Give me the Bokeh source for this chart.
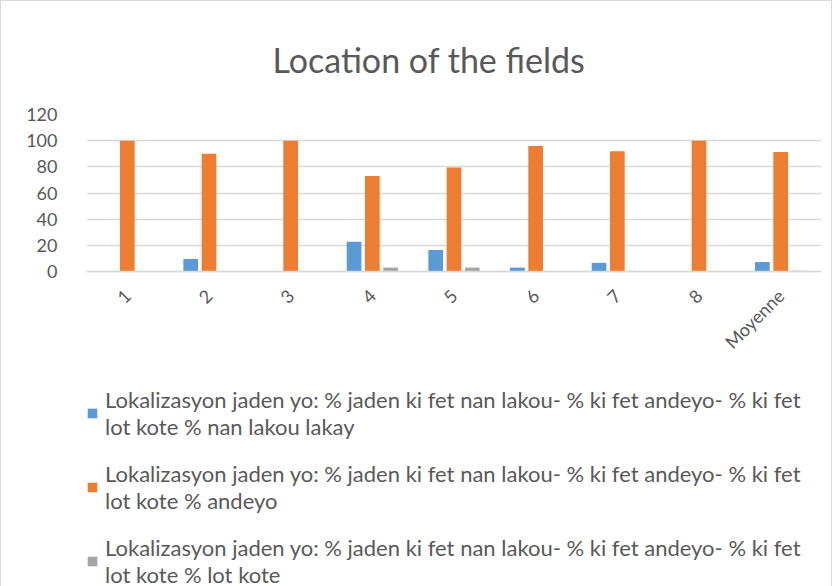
from bokeh.plotting import figure
from bokeh.models import ColumnDataSource, FactorRange, Range1d, Legend, LegendItem, FixedTicker
from bokeh.transform import dodge
from bokeh.embed import file_html
from bokeh.resources import INLINE
import math

categories = ["1", "2", "3", "4", "5", "6", "7", "8", "Moyenne"]
nan_lakou_lakay = [0, 9.5, 0, 22.7, 16.4, 3, 6.6, 0, 7.2]
andeyo = [100, 90, 100, 73, 79.5, 96, 92, 100, 91.3]
lot_kote = [0, 0, 0, 3, 3, 0, 0, 0, 0.6]
y_ticks = [0, 20, 40, 60, 80, 100, 120]

prefix = "Lokalizasyon jaden yo: % jaden ki fet nan lakou- % ki fet andeyo- % ki fet\nlot kote % "
series_labels = [prefix + "nan lakou lakay", prefix + "andeyo", prefix + "lot kote"]
colors = ["#5B9BD5", "#ED7D31", "#A5A5A5"]

src = ColumnDataSource(dict(cat=categories, a=nan_lakou_lakay, b=andeyo, c=lot_kote))

FONT = "Lato"
GREY = "#595959"

# layout: the bar area (0..120) occupies the top 157 px of a taller frame,
# the rest of the frame holds the axis labels and the legend
BAR_H = 157
FRAME_H = 475
Y_MAX = 120
y_low = -Y_MAX * (FRAME_H - BAR_H) / BAR_H

p = figure(frame_width=735, frame_height=FRAME_H, x_range=FactorRange(*categories, range_padding=0),
           y_range=Range1d(y_low, Y_MAX), output_backend="svg", toolbar_location=None,
           min_border_left=85, min_border_right=10, min_border_top=107, min_border_bottom=0)

p.title.text = "Location of the fields"
p.title.align = "left"
p.title.offset = 186
p.title.text_font = FONT
p.title.text_font_size = "34px"
p.title.text_font_style = "normal"
p.title.text_color = GREY
p.title.standoff = 70

step = 0.224
w = 0.18
r1 = p.vbar(x=dodge("cat", -step, range=p.x_range), top="a", width=w, source=src, fill_color=colors[0], line_color=None)
r2 = p.vbar(x=dodge("cat", 0, range=p.x_range), top="b", width=w, source=src, fill_color=colors[1], line_color=None)
r3 = p.vbar(x=dodge("cat", step, range=p.x_range), top="c", width=w, source=src, fill_color=colors[2], line_color=None)

p.outline_line_color = None
p.xgrid.grid_line_color = None
p.ygrid.grid_line_color = "#D9D9D9"
p.ygrid.grid_line_width = 1.5
p.yaxis.ticker = FixedTicker(ticks=y_ticks)
p.yaxis.axis_line_color = None
p.yaxis.major_tick_line_color = None
p.yaxis.minor_tick_line_color = None
p.yaxis.major_label_text_font = FONT
p.yaxis.major_label_text_font_size = "18px"
p.yaxis.major_label_text_color = GREY
p.yaxis.major_label_standoff = 23

p.xaxis.fixed_location = 0
p.xaxis.axis_line_color = "#D9D9D9"
p.xaxis.axis_line_width = 1.5
p.xaxis.major_tick_line_color = None
p.xaxis.minor_tick_line_color = None
p.xaxis.major_label_orientation = math.pi / 4
p.xaxis.major_label_text_font = FONT
p.xaxis.major_label_text_font_size = "18px"
p.xaxis.major_label_text_color = GREY
p.xaxis.major_label_standoff = 15

legend = Legend(items=[LegendItem(label=series_labels[0], renderers=[r1]),
                       LegendItem(label=series_labels[1], renderers=[r2]),
                       LegendItem(label=series_labels[2], renderers=[r3])],
                location=(0, 1), orientation="vertical")
legend.border_line_color = None
legend.background_fill_alpha = 0
legend.label_text_font = FONT
legend.label_text_font_size = "22px"
legend.label_text_line_height = 1.12
legend.label_text_color = GREY
legend.glyph_width = 12
legend.glyph_height = 12
legend.padding = 0
legend.margin = 0
legend.spacing = 20
legend.label_standoff = 7
p.add_layout(legend, "center")

p.styles = {"border": "1px solid #D9D9D9"}

open("out.html", "w").write(file_html(p, INLINE))
